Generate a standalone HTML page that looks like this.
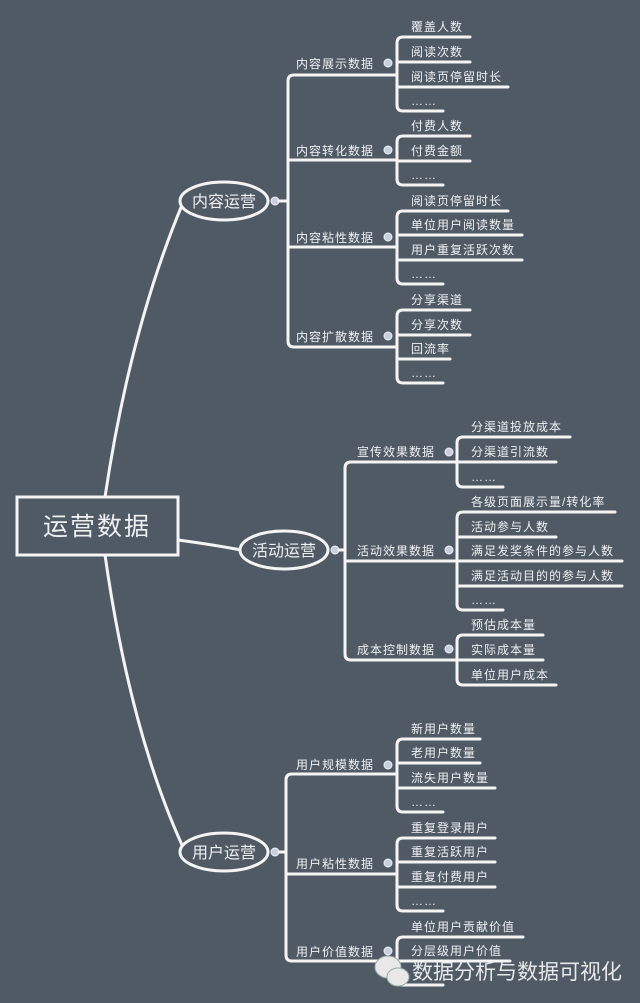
<!DOCTYPE html>
<html><head><meta charset="utf-8"><style>
html,body{margin:0;padding:0;background:#505a64;}
svg{display:block}
text{font-family:"Liberation Sans","Noto Sans CJK SC",sans-serif;fill:#eef0f2;}
.l{stroke:#f4f4f4;stroke-width:3;fill:none;stroke-linecap:round}
.c{font-size:12px;letter-spacing:1px}
.b{font-size:12px;letter-spacing:1px}
</style></head><body>
<svg width="640" height="1003" viewBox="0 0 640 1003" xmlns="http://www.w3.org/2000/svg">
<rect width="640" height="1003" fill="#505a64"/>
<!-- root -->
<rect x="17" y="497" width="161" height="58" fill="none" stroke="#f4f4f4" stroke-width="3"/>
<text x="97" y="535" text-anchor="middle" style="font-size:25px;letter-spacing:2px">运营数据</text>
<path class="l" d="M105 497 Q130 330 182 205"/>
<path class="l" d="M178 540 Q215 545 241 550"/>
<path class="l" d="M105 555 Q130 730 182 845"/>
<!-- L1 ellipses -->
<ellipse cx="224" cy="201" rx="44" ry="19" fill="#505a64" stroke="#f4f4f4" stroke-width="3"/>
<text x="224" y="207" text-anchor="middle" style="font-size:16px">内容运营</text>
<ellipse cx="284" cy="550" rx="44" ry="19" fill="#505a64" stroke="#f4f4f4" stroke-width="3"/>
<text x="284" y="556" text-anchor="middle" style="font-size:16px">活动运营</text>
<ellipse cx="224" cy="852" rx="44" ry="19" fill="#505a64" stroke="#f4f4f4" stroke-width="3"/>
<text x="224" y="858" text-anchor="middle" style="font-size:16px">用户运营</text>
<g fill="#c9d0dc" stroke="#eef" stroke-width="1">
<circle cx="275" cy="201" r="4"/><circle cx="335" cy="550" r="4"/><circle cx="275" cy="852" r="4"/>
<circle cx="388" cy="63" r="4"/><circle cx="388" cy="150" r="4"/><circle cx="388" cy="237" r="4"/><circle cx="388" cy="336" r="4"/>
<circle cx="449" cy="452" r="4"/><circle cx="449" cy="550" r="4"/><circle cx="449" cy="649" r="4"/>
<circle cx="388" cy="765" r="4"/><circle cx="388" cy="863" r="4"/><circle cx="388" cy="951" r="4"/>
</g>
<!-- 内容运营 L1 bracket -->
<path class="l" d="M279 201 H288"/>
<path class="l" d="M397 75 H294 Q288 75 288 81 V341 Q288 347 294 347 H397"/>
<path class="l" d="M288 160 H397 M288 247 H397"/>
<g class="b"><text x="296" y="68">内容展示数据</text><text x="296" y="155">内容转化数据</text><text x="296" y="242">内容粘性数据</text><text x="296" y="341">内容扩散数据</text></g>
<!-- children groups -->
<path class="l" d="M470 37 H403 Q397 37 397 43 V105 Q397 111 403 111 H443 M397 62 H470 M397 87 H508"/>
<path class="l" d="M470 136 H403 Q397 136 397 142 V179 Q397 185 403 185 H443 M397 161 H470"/>
<path class="l" d="M508 211 H403 Q397 211 397 217 V278 Q397 284 403 284 H443 M397 235 H522 M397 260 H522"/>
<path class="l" d="M470 310 H403 Q397 310 397 316 V377 Q397 383 403 383 H443 M397 335 H470 M397 359 H450"/>
<g class="c">
<text x="411" y="31">覆盖人数</text><text x="411" y="56">阅读次数</text><text x="411" y="81">阅读页停留时长</text><text x="411" y="105">……</text>
<text x="411" y="130">付费人数</text><text x="411" y="155">付费金额</text><text x="411" y="179">……</text>
<text x="411" y="205">阅读页停留时长</text><text x="411" y="229">单位用户阅读数量</text><text x="411" y="254">用户重复活跃次数</text><text x="411" y="278">……</text>
<text x="411" y="304">分享渠道</text><text x="411" y="329">分享次数</text><text x="411" y="353">回流率</text><text x="411" y="377">……</text>
</g>
<!-- 活动运营 -->
<path class="l" d="M339 550 H345"/>
<path class="l" d="M457 462 H351 Q345 462 345 468 V654 Q345 660 351 660 H457 M345 561 H457"/>
<g class="b"><text x="357" y="456">宣传效果数据</text><text x="357" y="555">活动效果数据</text><text x="357" y="654">成本控制数据</text></g>
<path class="l" d="M570 437 H463 Q457 437 457 443 V481 Q457 487 463 487 H503 M457 462 H556"/>
<path class="l" d="M615 512 H463 Q457 512 457 518 V604 Q457 610 463 610 H503 M457 537 H556 M457 561 H622 M457 586 H622"/>
<path class="l" d="M543 635 H463 Q457 635 457 641 V679 Q457 685 463 685 H556 M457 660 H543"/>
<g class="c">
<text x="471" y="431">分渠道投放成本</text><text x="471" y="456">分渠道引流数</text><text x="471" y="481">……</text>
<text x="471" y="506">各级页面展示量/转化率</text><text x="471" y="531">活动参与人数</text><text x="471" y="555">满足发奖条件的参与人数</text><text x="471" y="580">满足活动目的的参与人数</text><text x="471" y="604">……</text>
<text x="471" y="629">预估成本量</text><text x="471" y="654">实际成本量</text><text x="471" y="679">单位用户成本</text>
</g>
<!-- 用户运营 -->
<path class="l" d="M279 852 H286"/>
<path class="l" d="M397 774 H292 Q286 774 286 780 V955 Q286 961 292 961 H397 M286 874 H397"/>
<g class="b"><text x="296" y="769">用户规模数据</text><text x="296" y="868">用户粘性数据</text><text x="296" y="956">用户价值数据</text></g>
<path class="l" d="M480 739 H403 Q397 739 397 745 V806 Q397 812 403 812 H443 M397 763 H480 M397 788 H495"/>
<path class="l" d="M495 838 H403 Q397 838 397 844 V905 Q397 911 403 911 H443 M397 862 H495 M397 887 H495"/>
<path class="l" d="M523 937 H403 Q397 937 397 943 V979 Q397 985 403 985 H443 M397 961 H510"/>
<g class="c">
<text x="411" y="733">新用户数量</text><text x="411" y="757">老用户数量</text><text x="411" y="782">流失用户数量</text><text x="411" y="806">……</text>
<text x="411" y="832">重复登录用户</text><text x="411" y="856">重复活跃用户</text><text x="411" y="881">重复付费用户</text><text x="411" y="905">……</text>
<text x="411" y="931">单位用户贡献价值</text><text x="411" y="955">分层级用户价值</text>
</g>
<!-- watermark -->
<g fill="#e8e8e8" stroke="#9aa" stroke-width="1">
<ellipse cx="388" cy="967" rx="13" ry="11"/><ellipse cx="398" cy="977" rx="11" ry="9"/>
</g>
<text x="412" y="979" style="font-size:21px;fill:#e6e8ea">数据分析与数据可视化</text>
</svg>
</body></html>
